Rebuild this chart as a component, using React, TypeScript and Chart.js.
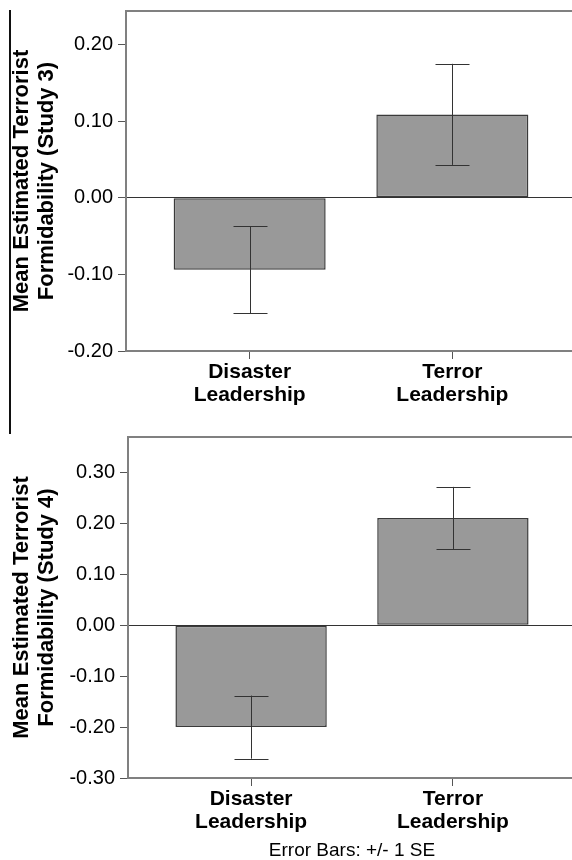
import React, { useEffect, useRef } from 'react';
import { Chart, registerables } from 'chart.js';

Chart.register(...registerables);

const categories = [
  ['Disaster', 'Leadership'],
  ['Terror', 'Leadership'],
];
const study3Means = [-0.094, 0.109];
const study3SE = [0.057, 0.066];
const study4Means = [-0.2, 0.211];
const study4SE = [0.062, 0.061];
const study3Ticks = [-0.2, -0.1, 0, 0.1, 0.2];
const study4Ticks = [-0.3, -0.2, -0.1, 0, 0.1, 0.2, 0.3];
const study3Title = ['Mean Estimated Terrorist', 'Formidability (Study 3)'];
const study4Title = ['Mean Estimated Terrorist', 'Formidability (Study 4)'];
const footnote = 'Error Bars: +/- 1 SE';

const FONT = "'Liberation Sans', Arial, Helvetica, sans-serif";

function makeConfig(
  means: number[],
  se: number[],
  yTicks: number[],
  yTitle: string[],
  yMax: number,
  opts: { padTop: number; yWidth: number; xHeight: number; footnote?: string }
): any {
  const errorBars = {
    id: 'errorBarsAndFrame',
    afterDatasetsDraw(chart: any) {
      const ctx = chart.ctx;
      const ys = chart.scales.y;
      const meta = chart.getDatasetMeta(0);
      ctx.save();
      ctx.strokeStyle = '#333333';
      ctx.lineWidth = 1;
      meta.data.forEach((bar: any, i: number) => {
        const v = means[i];
        const top = ys.getPixelForValue(v + se[i]);
        const bot = ys.getPixelForValue(v - se[i]);
        const x = Math.round(bar.x) + 0.5;
        ctx.beginPath();
        ctx.moveTo(x, top);
        ctx.lineTo(x, bot);
        ctx.moveTo(x - 17, Math.round(top) + 0.5);
        ctx.lineTo(x + 17, Math.round(top) + 0.5);
        ctx.moveTo(x - 17, Math.round(bot) + 0.5);
        ctx.lineTo(x + 17, Math.round(bot) + 0.5);
        ctx.stroke();
      });
      const ca = chart.chartArea;
      ctx.strokeStyle = '#808080';
      ctx.lineWidth = 2;
      ctx.beginPath();
      ctx.moveTo(ca.left - 1, ca.top);
      ctx.lineTo(ca.right + 30, ca.top);
      ctx.stroke();
      ctx.restore();
    },
  };

  return {
    type: 'bar',
    data: {
      datasets: [
        {
          data: means.map((m, i) => ({ x: i, y: m })),
          backgroundColor: '#999999',
          borderColor: '#3a3a3a',
          borderWidth: 1.5,
          borderSkipped: false,
          barPercentage: 0.75,
          categoryPercentage: 1,
        },
      ],
    },
    options: {
      animation: false,
      responsive: false,
      devicePixelRatio: 1,
      layout: { padding: { top: opts.padTop, right: 24, left: 0, bottom: 0 } },
      plugins: { legend: { display: false }, tooltip: { enabled: false }, title: { display: false } },
      scales: {
        x: {
          type: 'linear',
          offset: false,
          min: -0.61,
          max: 1.61,
          bounds: 'data',
          afterBuildTicks: (s: any) => {
            s.ticks = categories.map((_, i) => ({ value: i }));
          },
          afterFit: (s: any) => {
            s.height = opts.xHeight;
            s.paddingLeft = 0;
            s.paddingRight = 0;
          },
          ticks: {
            autoSkip: false,
            maxRotation: 0,
            padding: 2,
            color: '#000000',
            font: { family: FONT, size: 21, weight: 'bold', lineHeight: 1.1 },
            callback: (_v: any, i: number) => categories[i],
          },
          grid: { offset: false, drawOnChartArea: false, tickLength: 8, tickColor: '#555555', tickWidth: 1 },
          border: { color: '#808080', width: 2 },
          title: opts.footnote
            ? {
                display: true,
                text: opts.footnote,
                color: '#000000',
                font: { family: FONT, size: 19, lineHeight: 1 },
                padding: { top: 0, bottom: 0 },
              }
            : { display: false },
        },
        y: {
          type: 'linear',
          min: yTicks[0],
          max: yMax,
          afterBuildTicks: (s: any) => {
            s.ticks = yTicks.map((v) => ({ value: v }));
          },
          afterFit: (s: any) => {
            s.width = opts.yWidth;
            s.paddingTop = 0;
            s.paddingBottom = 0;
          },
          ticks: {
            padding: 5,
            color: '#000000',
            font: { family: FONT, size: 20 },
            callback: (v: any) => Number(v).toFixed(2),
          },
          grid: {
            color: (c: any) => (c.tick && Math.abs(c.tick.value) < 1e-9 ? '#333333' : 'rgba(0,0,0,0)'),
            lineWidth: 1,
            tickColor: '#555555',
            tickLength: 8,
            tickWidth: 1,
          },
          border: { color: '#808080', width: 2 },
          title: {
            display: true,
            text: yTitle,
            color: '#000000',
            font: { family: FONT, size: 22, weight: 'bold', lineHeight: 1.13 },
            padding: { top: 10, bottom: 0 },
          },
        },
      },
    },
    plugins: [errorBars],
  };
}

export default function App() {
  const topRef = useRef<HTMLCanvasElement>(null);
  const botRef = useRef<HTMLCanvasElement>(null);

  useEffect(() => {
    const c1 = new Chart(
      topRef.current as HTMLCanvasElement,
      makeConfig(study3Means, study3SE, study3Ticks, study3Title, 0.244, {
        padTop: 11,
        yWidth: 126,
        xHeight: 79,
      })
    );
    const c2 = new Chart(
      botRef.current as HTMLCanvasElement,
      makeConfig(study4Means, study4SE, study4Ticks, study4Title, 0.37, {
        padTop: 7,
        yWidth: 128,
        xHeight: 82,
        footnote,
      })
    );
    return () => {
      c1.destroy();
      c2.destroy();
    };
  }, []);

  return (
    <div
      style={{
        position: 'absolute',
        left: 0,
        top: 0,
        width: 572,
        height: 860,
        overflow: 'hidden',
        background: '#ffffff',
      }}
    >
      <canvas ref={topRef} width={600} height={430} style={{ position: 'absolute', left: 0, top: 0, display: 'block' }} />
      <canvas ref={botRef} width={600} height={430} style={{ position: 'absolute', left: 0, top: 430, display: 'block' }} />
      <div style={{ position: 'absolute', left: 9, top: 10, width: 2, height: 424, background: '#111111' }} />
    </div>
  );
}
